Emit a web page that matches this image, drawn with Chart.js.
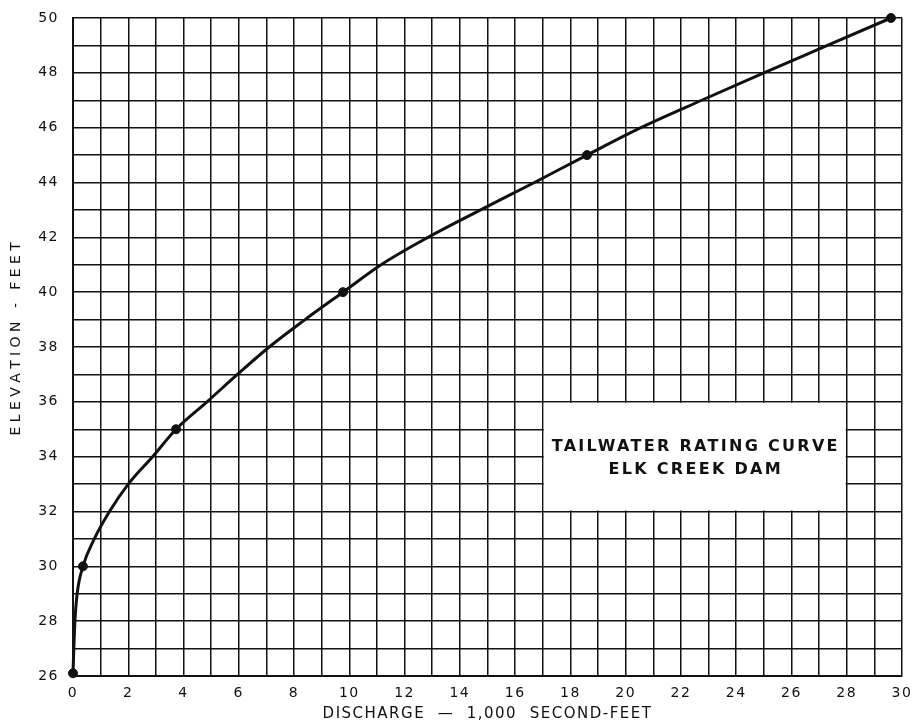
<!DOCTYPE html>
<html>
<head>
<meta charset="utf-8">
<script src="https://cdn.jsdelivr.net/npm/chart.js@4"></script>
<style>
  html, body { margin: 0; padding: 0; background: #fff; }
  #wrap { width: 913px; height: 723px; }
</style>
</head>
<body>
<div id="wrap"><canvas id="ratingChart" width="913" height="723"></canvas></div>
<script>
// curve (discharge in 1,000 cfs vs elevation in feet)
const curveDischarge = [0, 0.03, 0.07, 0.15, 0.36, 0.77, 1.32, 2.0, 2.88, 3.73, 4.85, 5.95, 7.1, 8.4, 9.77, 11.15, 12.85, 14.75, 16.7, 18.6, 20.55, 22.75, 25.0, 27.3, 29.6];
const curveElevation = [26.1, 27, 28, 29, 30, 31, 32, 33, 34, 35, 36, 37, 38, 39, 40, 41, 42, 43, 44, 45, 46, 47, 48, 49, 50];

// plotted points (dots)
const pointDischarge = [0, 0.36, 3.73, 9.77, 18.6, 29.6];
const pointElevation = [26.1, 30, 35, 40, 45, 50];

const titleLines = ['TAILWATER RATING CURVE', 'ELK CREEK DAM'];
const titleBox = { x1: 17, x2: 28, y1: 32, y2: 36 };

const ink = '#111';
const fontFamily = '"DejaVu Sans", "Liberation Sans", sans-serif';
const hair = '\u200A';

// lettering on the original is spaced out a little
const spacingPlugin = {
    id: 'spacing',
    beforeLayout(chart) { chart.ctx.letterSpacing = '1.5px'; },
    beforeDraw(chart) { chart.ctx.letterSpacing = '1.5px'; }
};

const titleBoxPlugin = {
    id: 'titleBox',
    afterDatasetsDraw(chart) {
        const ctx = chart.ctx;
        const xs = chart.scales.x, ys = chart.scales.y;
        const left = xs.getPixelForValue(titleBox.x1);
        const right = xs.getPixelForValue(titleBox.x2);
        const top = ys.getPixelForValue(titleBox.y2);
        const bottom = ys.getPixelForValue(titleBox.y1);
        ctx.save();
        ctx.fillStyle = '#fff';
        ctx.fillRect(left + 1, top + 1, right - left - 2, bottom - top - 2);
        ctx.fillStyle = ink;
        ctx.font = 'bold 16px ' + fontFamily;
        ctx.letterSpacing = '2.3px';
        ctx.textAlign = 'center';
        ctx.textBaseline = 'middle';
        const cx = (left + right) / 2;
        ctx.fillText(titleLines[0], cx + 1, 447);
        ctx.fillText(titleLines[1], cx + 1, 470);
        ctx.restore();
    }
};

const ctx = document.getElementById('ratingChart').getContext('2d');
const chart = new Chart(ctx, {
    type: 'scatter',
    data: {
        datasets: [{
            label: 'Rating curve',
            data: curveDischarge.map((d, i) => ({ x: d, y: curveElevation[i] })),
            showLine: true,
            borderColor: ink,
            borderWidth: 3,
            pointRadius: 0,
            cubicInterpolationMode: 'monotone',
            order: 2
        }, {
            label: 'Points',
            data: pointDischarge.map((d, i) => ({ x: d, y: pointElevation[i] })),
            showLine: false,
            backgroundColor: ink,
            borderColor: ink,
            pointRadius: 4.5,
            order: 1
        }]
    },
    options: {
        responsive: false,
        animation: false,
        clip: false,
        layout: { padding: { top: 18, right: 11, left: 0, bottom: 0 } },
        plugins: {
            legend: { display: false },
            tooltip: { enabled: false }
        },
        scales: {
            x: {
                type: 'linear',
                min: 0,
                max: 30,
                afterFit(scale) {
                    scale.height = 47;
                    scale.paddingLeft = 0;
                    scale.paddingRight = 0;
                },
                ticks: {
                    stepSize: 1,
                    autoSkip: false,
                    maxRotation: 0,
                    padding: 9,
                    color: ink,
                    font: { family: fontFamily, size: 14 },
                    callback: v => (v % 2 === 0 ? String(v) : '')
                },
                grid: { color: ink, lineWidth: 1.5, drawTicks: false },
                border: { color: ink, width: 2 },
                title: {
                    display: true,
                    text: 'DISCHARGE  —  1,000  SECOND-FEET',
                    color: ink,
                    font: { family: fontFamily, size: 15 },
                    padding: { top: 0, bottom: 0 }
                }
            },
            y: {
                type: 'linear',
                min: 26,
                max: 50,
                afterFit(scale) {
                    scale.width = 73;
                    scale.paddingTop = 0;
                    scale.paddingBottom = 0;
                },
                ticks: {
                    stepSize: 1,
                    autoSkip: false,
                    padding: 14,
                    color: ink,
                    font: { family: fontFamily, size: 14 },
                    callback: v => (v % 2 === 0 ? String(v) : '')
                },
                grid: { color: ink, lineWidth: 1.5, drawTicks: false },
                border: { color: ink, width: 2 },
                title: {
                    display: true,
                    text: '   ' + 'ELEVATION'.split('').join(hair) + '  -  ' + 'FEET'.split('').join(hair),
                    color: ink,
                    font: { family: fontFamily, size: 14 },
                    padding: { top: 8, bottom: 0 }
                }
            }
        }
    },
    plugins: [spacingPlugin, titleBoxPlugin]
});
</script>
</body>
</html>
